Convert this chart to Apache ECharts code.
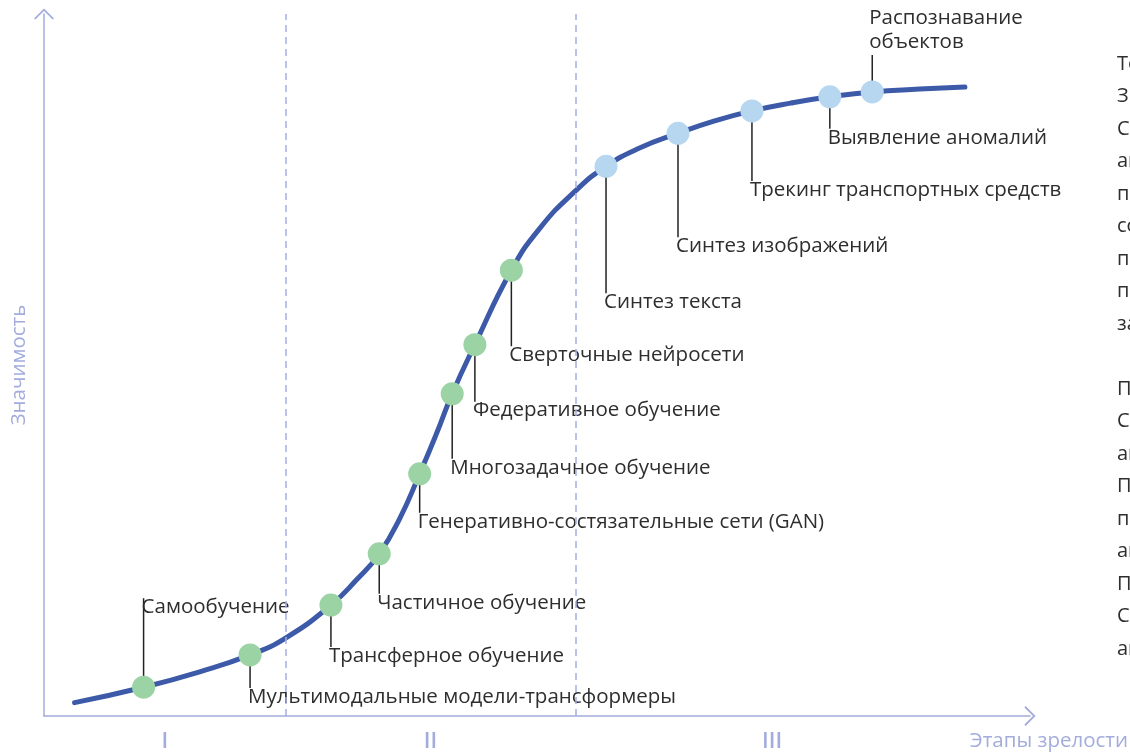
<!DOCTYPE html>
<html>
<head>
<meta charset="utf-8">
<script src="https://cdn.jsdelivr.net/npm/echarts@6/dist/echarts.min.js"></script>
<style>
    html, body {margin:0; padding:0; background:#fff;}
    #chart {width:1130px; height:754px;}
</style>
</head>
<body>
<div id="chart"></div>
<script>
// кривая зрелости технологий (шкала 0..100 по обеим осям)
var curveX = [3.1, 10.1, 15.8, 20.9, 24.5, 29.1, 31.7, 34.0, 36.1, 38.1, 39.8, 41.4, 43.7, 47.4, 50.3, 53.9, 57.0, 60.4, 64.3, 68.1, 71.8, 75.7, 79.7, 84.0, 88.8, 93.4];
var curveY = [1.9, 4.1, 6.3, 8.7, 11.1, 15.8, 19.4, 23.1, 28.2, 34.5, 40.2, 45.9, 52.9, 63.5, 69.5, 74.8, 78.3, 80.9, 83.0, 84.8, 86.2, 87.3, 88.2, 88.9, 89.3, 89.6];

// технологии на кривой
var techNames = [
    'Самообучение',
    'Мультимодальные модели-трансформеры',
    'Трансферное обучение',
    'Частичное обучение',
    'Генеративно-состязательные сети (GAN)',
    'Многозадачное обучение',
    'Федеративное обучение',
    'Сверточные нейросети',
    'Синтез текста',
    'Синтез изображений',
    'Трекинг транспортных средств',
    'Выявление аномалий',
    'Распознавание\nобъектов'
];
var techX = [10.1, 20.9, 29.1, 34.0, 38.1, 41.4, 43.7, 47.4, 57.0, 64.3, 71.8, 79.7, 84.0];
var techY = [4.1, 8.7, 15.8, 23.1, 34.5, 45.9, 52.9, 63.5, 78.3, 83.0, 86.2, 88.2, 88.9];
var techGroup = ['g', 'g', 'g', 'g', 'g', 'g', 'g', 'g', 'b', 'b', 'b', 'b', 'b'];

// этапы зрелости
var stageNames = ['I', 'II', 'III'];
var stageBounds = [0, 24.5, 53.9, 93.8];

// оформление подписей (px от центра точки, минус = вверх)
var leaderLen = [-89, 33, 42, 40, 39, 65, 57, 76, 127, 104, 70, 32, -37];
var labelSide = ['below', 'below', 'below', 'below', 'below', 'below', 'below', 'below', 'below', 'below', 'below', 'below', 'above'];

var axisColor = '#a3acdc';
var textColor = '#2e2e2e';
var fontFamily = '"Open Sans", sans-serif';
var chevron = 'path://M0,10 L10,0 L20,10 L18.6,11.2 L10,2.6 L1.4,11.2 Z';

var stageCenters = [];
for (var i = 0; i < stageNames.length; i++) {
    stageCenters.push((stageBounds[i] + stageBounds[i + 1]) / 2);
}

function renderData(){
    var chart = echarts.init(document.getElementById('chart'));

    var curveData = curveX.map(function(x, i){ return [x, curveY[i]]; });
    var greenDots = [], blueDots = [], leaderData = [];
    techX.forEach(function(x, i){
        var p = [x, techY[i]];
        (techGroup[i] === 'g' ? greenDots : blueDots).push(p);
        leaderData.push([x, techY[i], i]);
    });

    var option = {
        animation: false,
        textStyle: {fontFamily: fontFamily},
        grid: {left: 44, right: 100, top: 14, bottom: 38, containLabel: false, outerBoundsMode: 'none'},
        xAxis: {
            type: 'value', min: 0, max: 100,
            splitLine: {show: false},
            axisTick: {show: false},
            axisLine: {
                lineStyle: {color: axisColor, width: 1.5},
                symbol: ['none', chevron],
                symbolSize: [20, 12]
            },
            axisLabel: {
                customValues: stageCenters,
                formatter: function(v){
                    var k = stageCenters.indexOf(v);
                    return k >= 0 ? stageNames[k] : '';
                },
                color: axisColor, fontSize: 22, fontWeight: 600, margin: 15
            },
            name: 'Этапы зрелости',
            nameLocation: 'end',
            nameGap: 98,
            nameTextStyle: {
                color: axisColor, fontSize: 20.5,
                align: 'right', verticalAlign: 'top',
                padding: [15, 0, 0, 0]
            }
        },
        yAxis: {
            type: 'value', min: 0, max: 100,
            splitLine: {show: false},
            axisTick: {show: false},
            axisLabel: {show: false},
            axisLine: {
                lineStyle: {color: axisColor, width: 1.5},
                symbol: ['none', chevron],
                symbolSize: [20, 12]
            },
            name: 'Значимость',
            nameLocation: 'middle',
            nameGap: 14,
            nameTextStyle: {color: axisColor, fontSize: 20.5}
        },
        series: [
            {
                type: 'line',
                data: curveData,
                smooth: true,
                showSymbol: false,
                lineStyle: {color: '#3d5aa9', width: 5, cap: 'round'},
                z: 2,
                markLine: {
                    silent: true,
                    symbol: 'none',
                    label: {show: false},
                    lineStyle: {color: '#a5afe4', type: [7, 5], width: 1.5},
                    data: stageBounds.slice(1, stageBounds.length - 1).map(function(v){ return {xAxis: v}; })
                }
            },
            {
                type: 'custom',
                data: leaderData,
                z: 1,
                renderItem: function(params, api){
                    var i = api.value(2);
                    var pt = api.coord([api.value(0), api.value(1)]);
                    var len = leaderLen[i];
                    var endY = pt[1] + len;
                    var text;
                    if (labelSide[i] === 'above') {
                        text = {type: 'text', x: pt[0] - 3, y: endY - 1,
                            style: {text: techNames[i], fill: textColor, fontSize: 20.5, fontFamily: fontFamily,
                                lineHeight: 24, align: 'left', verticalAlign: 'bottom'}};
                    } else {
                        text = {type: 'text', x: pt[0] - 2, y: endY + 9,
                            style: {text: techNames[i], fill: textColor, fontSize: 20.5, fontFamily: fontFamily,
                                align: 'left', verticalAlign: 'middle'}};
                    }
                    return {
                        type: 'group',
                        children: [
                            {type: 'line', shape: {x1: pt[0], y1: pt[1], x2: pt[0], y2: endY},
                                style: {stroke: '#222', lineWidth: 1.5}},
                            text
                        ]
                    };
                }
            },
            {
                type: 'scatter',
                data: greenDots,
                symbolSize: 23,
                itemStyle: {color: '#9bd3a4', opacity: 1},
                z: 3
            },
            {
                type: 'scatter',
                data: blueDots,
                symbolSize: 23,
                itemStyle: {color: '#b7d7f1', opacity: 1},
                z: 3
            }
        ],
        graphic: [{
            type: 'text', left: 1117, top: 48,
            style: {
                text: 'Технологии\nЗрелость\nСистемы\nанализа\nпозволяют\nсоздавать\nпродукты\nпрогнозы\nзадачи\n\nПри\nСегодня\nавтоматизация\nПрименение\nпозволяет\nанализ\nПо\nСистемы\nавтоматизации',
                fill: textColor, fontSize: 20, lineHeight: 32.5, fontFamily: fontFamily
            }
        }]
    };
    chart.setOption(option);
}

renderData();
</script>
</body>
</html>
